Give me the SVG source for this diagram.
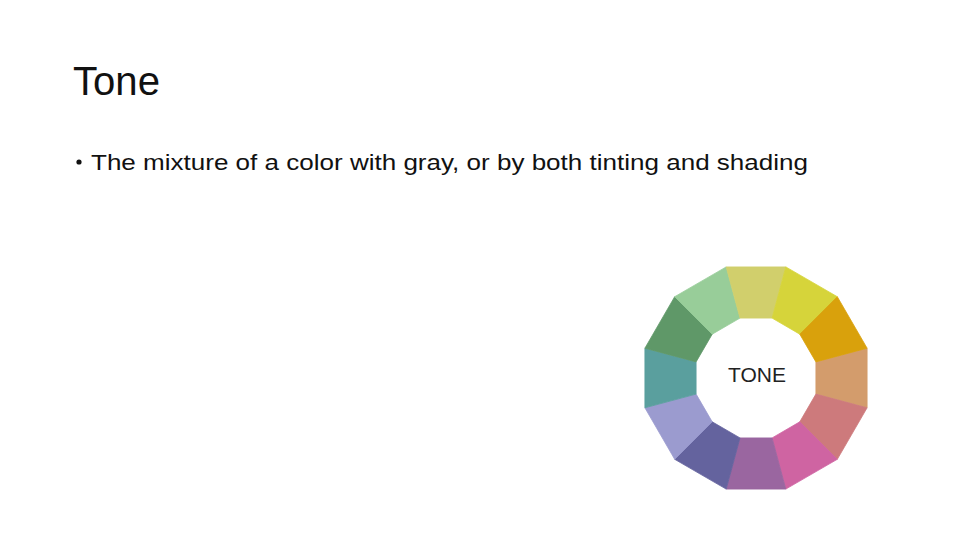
<svg xmlns="http://www.w3.org/2000/svg" width="960" height="540" viewBox="0 0 960 540">
<style>
.title{font-family:"Liberation Sans","Open Sans",sans-serif;font-size:40px;fill:#111}
.body{font-family:"Liberation Sans","Open Sans",sans-serif;font-size:22px;fill:#111}
.seg{stroke-width:0.8;stroke-linejoin:round}
.lbl{font-family:"Liberation Sans",Arial,sans-serif;font-size:21px;fill:#222;text-anchor:middle}
</style>
<rect width="960" height="540" fill="#ffffff"/>
<g id="title"><text class="title" x="73" y="95" textLength="87" lengthAdjust="spacingAndGlyphs">Tone</text></g>
<g id="bullet">
<circle cx="79" cy="162" r="2.6" fill="#111"/>
<text class="body" x="91" y="170" textLength="717" lengthAdjust="spacingAndGlyphs">The mixture of a color with gray, or by both tinting and shading</text>
</g>
<g id="wheel">
<polygon class="seg" fill="#d39c6c" stroke="#d39c6c" points="867.1,348.2 867.1,407.8 815.9,394.1 815.9,361.9"/>
<polygon class="seg" fill="#cd7a7c" stroke="#cd7a7c" points="867.1,407.8 837.3,459.3 799.8,421.8 815.9,394.1"/>
<polygon class="seg" fill="#cf64a2" stroke="#cf64a2" points="837.3,459.3 785.8,489.1 772.1,437.9 799.8,421.8"/>
<polygon class="seg" fill="#9a66a0" stroke="#9a66a0" points="785.8,489.1 726.2,489.1 740.0,437.9 772.1,437.9"/>
<polygon class="seg" fill="#64639e" stroke="#64639e" points="726.2,489.1 674.7,459.3 712.2,421.8 740.0,437.9"/>
<polygon class="seg" fill="#9b9bcf" stroke="#9b9bcf" points="674.7,459.3 644.9,407.8 696.1,394.1 712.2,421.8"/>
<polygon class="seg" fill="#5a9f9e" stroke="#5a9f9e" points="644.9,407.8 644.9,348.2 696.1,361.9 696.1,394.1"/>
<polygon class="seg" fill="#5f9868" stroke="#5f9868" points="644.9,348.2 674.7,296.7 712.2,334.2 696.1,361.9"/>
<polygon class="seg" fill="#98cd99" stroke="#98cd99" points="674.7,296.7 726.2,266.9 740.0,318.1 712.2,334.2"/>
<polygon class="seg" fill="#d1cf6c" stroke="#d1cf6c" points="726.2,266.9 785.8,266.9 772.1,318.1 740.0,318.1"/>
<polygon class="seg" fill="#d6d43a" stroke="#d6d43a" points="785.8,266.9 837.3,296.7 799.8,334.2 772.1,318.1"/>
<polygon class="seg" fill="#d9a10c" stroke="#d9a10c" points="837.3,296.7 867.1,348.2 815.9,361.9 799.8,334.2"/>
<text class="lbl" x="757" y="382">TONE</text>
</g>
</svg>
